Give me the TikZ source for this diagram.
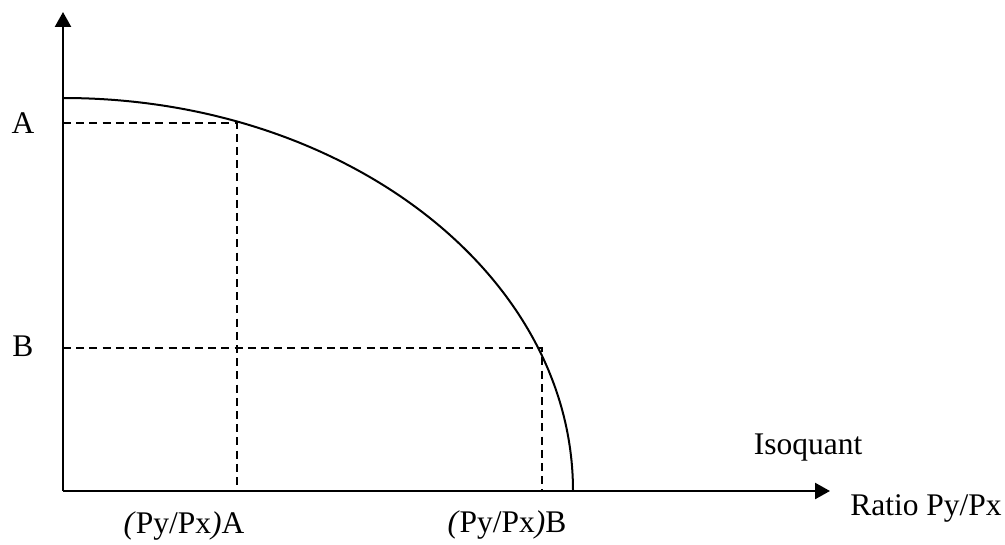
\documentclass[tikz,border=0pt]{standalone}
\usepackage{fontspec}
\setmainfont{Liberation Serif}
\usetikzlibrary{arrows.meta, positioning}

\begin{document}
\begin{tikzpicture}[
				x=0.5pt, y=-0.5pt,
				>={Triangle[length=7.5pt, width=8pt]},
				font=\fontsize{15.75}{18}\selectfont,
				axis/.style={
					line width=1.2pt
				},
				curve/.style={
					line width=1pt
				},
				guide/.style={
					line width=0.9pt,
					dash pattern=on 4pt off 2.6pt
				},
				lbl/.style={
					inner sep=0pt
				}
				]

				\useasboundingbox (0,0) rectangle (1005,545);

				%------------------------------------------------
				% AXES
				%------------------------------------------------

				\coordinate (O) at (63,491);
				\coordinate (ytop) at (63,12);
				\coordinate (xend) at (830,491);

				\draw[axis,->] (O) -- (ytop);
				\draw[axis,->] (O) -- (xend);

				%------------------------------------------------
				% ISOQUANT
				%------------------------------------------------

				\coordinate (cstart) at (63,98);
				\draw[curve] (cstart)
				arc[start angle=-90, end angle=0, x radius=510, y radius=393]
				coordinate (cend);

				%------------------------------------------------
				% POINTS A AND B
				%------------------------------------------------

				\coordinate (pA) at (237,123);
				\coordinate (pB) at (542,348);
				\coordinate (yA) at (63,123);
				\coordinate (yB) at (63,348);
				\coordinate (xA) at (237,491);
				\coordinate (xB) at (542,491);

				\draw[guide] (yA) -- (pA) -- (xA);
				\draw[guide] (yB) -- (pB) -- (xB);

				%------------------------------------------------
				% LABELS
				%------------------------------------------------

				\node[lbl] (labA) at (23,123) {A};
				\node[lbl] (labB) at (23,346) {B};

				\node[lbl, anchor=base] (ratA) at (184,533)
				{\textit{(}Py/Px\textit{)}A};
				\node[lbl, anchor=base] (ratB) at (507,532)
				{\textit{(}Py/Px\textit{)}B};

				\node[lbl, anchor=base] (iso) at (808,454) {Isoquant};
				\node[lbl, anchor=base] (xlab) at (926,515) {Ratio Py/Px};

			\end{tikzpicture}
\end{document}
